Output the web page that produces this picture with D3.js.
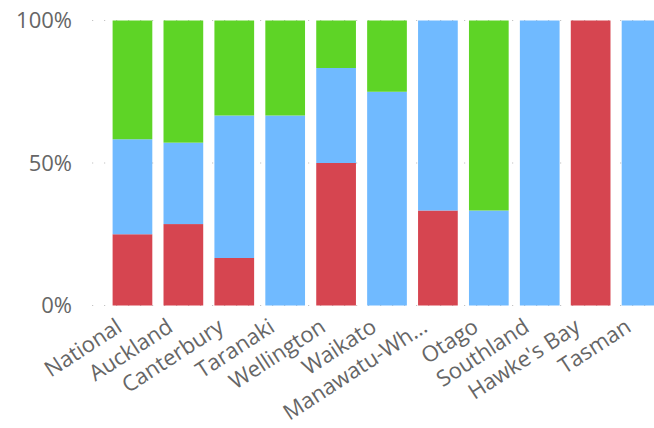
<!DOCTYPE html>
<html>
<head>
<meta charset="utf-8">
<script src="https://cdn.jsdelivr.net/npm/d3@7/dist/d3.min.js"></script>
<style>
  html, body { margin: 0; padding: 0; background: #fff; overflow: hidden; }
  svg { display: block; }
  text { font-family: "Open Sans", "Noto Sans", sans-serif; fill: #666; }
</style>
</head>
<body>
<svg id="chart" width="654" height="428"></svg>
<script>
// Regions along the x axis
const categories = ["National", "Auckland", "Canterbury", "Taranaki", "Wellington", "Waikato",
  "Manawatu-Wh…", "Otago", "Southland", "Hawke's Bay", "Tasman"];

// Share of each region per series (fractions, stacked bottom to top)
const seriesRed   = [0.25, 2/7, 1/6, 0,   0.5, 0,    1/3, 0,   0, 1, 0];
const seriesBlue  = [1/3,  2/7, 1/2, 2/3, 1/3, 0.75, 2/3, 1/3, 1, 0, 1];
const seriesGreen = [5/12, 3/7, 1/3, 1/3, 1/6, 0.25, 0,   2/3, 0, 0, 0];

const yTicks = [0, 0.5, 1];
const seriesKeys = ["red", "blue", "green"];
const seriesColors = { red: "#d64550", blue: "#70baff", green: "#5ed426" };

const rows = categories.map((c, i) => ({
  category: c, red: seriesRed[i], blue: seriesBlue[i], green: seriesGreen[i]
}));

const svg = d3.select("#chart");
const plotTop = 20.5, plotBottom = 305.5;

const x = d3.scaleBand().domain(categories).range([107, 667])
  .paddingInner(0.22).paddingOuter(0.11);
const y = d3.scaleLinear().domain([0, 1]).range([plotBottom, plotTop]);

// Dotted gridlines
svg.append("g").selectAll("line").data(yTicks).join("line")
  .attr("x1", 92).attr("x2", 667)
  .attr("y1", d => y(d)).attr("y2", d => y(d))
  .attr("stroke", "#c4c4c4").attr("stroke-width", 1.2)
  .attr("stroke-dasharray", "1.2,10.8");

// Y axis labels
const yAxis = d3.axisLeft(y).tickValues(yTicks).tickFormat(d3.format(".0%")).tickSize(0).tickPadding(0);
const gy = svg.append("g").attr("transform", "translate(72,0)").call(yAxis);
gy.select(".domain").remove();
gy.selectAll("text").attr("font-size", 22).attr("fill", "#6a6a6a")
  .attr("font-family", "'Open Sans', 'Noto Sans', sans-serif");

// Stacked bars
const stacked = d3.stack().keys(seriesKeys)(rows);
svg.append("g").selectAll("g").data(stacked).join("g")
  .attr("fill", d => seriesColors[d.key])
  .selectAll("rect").data(d => d.filter(p => p[1] - p[0] > 0)).join("rect")
  .attr("x", d => x(d.data.category))
  .attr("width", x.bandwidth())
  .attr("y", d => y(d[1]))
  .attr("height", d => y(d[0]) - y(d[1]));

// X axis labels, rotated
const xAxis = d3.axisBottom(x).tickSize(0).tickPadding(0);
const gx = svg.append("g").attr("transform", `translate(0,${plotBottom})`).call(xAxis);
gx.select(".domain").remove();
gx.selectAll("text")
  .attr("font-size", 22).attr("fill", "#6a6a6a")
  .attr("font-family", "'Open Sans', 'Noto Sans', sans-serif")
  .attr("text-anchor", "end")
  .attr("dy", "0")
  .attr("y", 0)
  .attr("transform", "translate(-9,25) rotate(-33)");
</script>
</body>
</html>
